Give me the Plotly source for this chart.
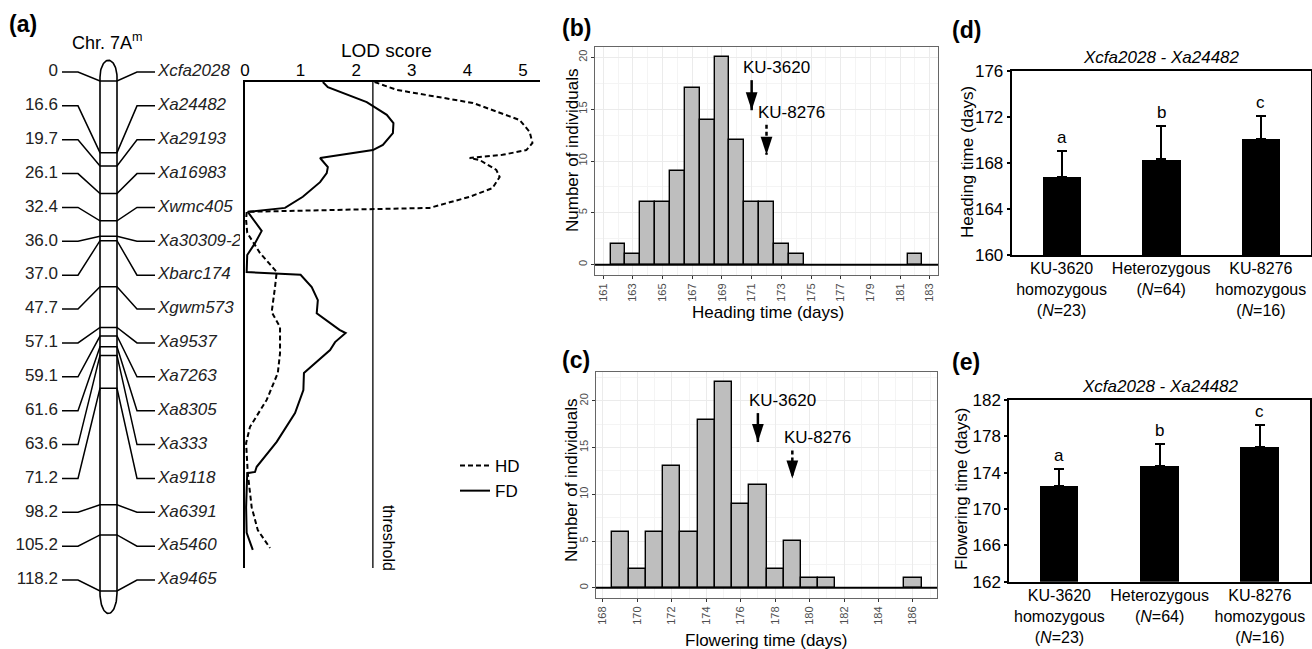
import numpy as np
import plotly.graph_objects as go

W, H = 1312, 649
FONT = "Liberation Sans, Arial, Helvetica, sans-serif"

# ---------------- data ----------------
# (a) linkage map of chromosome 7A^m
marker_names = ["Xcfa2028", "Xa24482", "Xa29193", "Xa16983", "Xwmc405", "Xa30309-2",
                "Xbarc174", "Xgwm573", "Xa9537", "Xa7263", "Xa8305", "Xa333", "Xa9118",
                "Xa6391", "Xa5460", "Xa9465"]
marker_cm = [0, 16.6, 19.7, 26.1, 32.4, 36.0, 37.0, 47.7, 57.1, 59.1, 61.6, 63.6, 71.2,
             98.2, 105.2, 118.2]
cm_labels = ["0", "16.6", "19.7", "26.1", "32.4", "36.0", "37.0", "47.7", "57.1", "59.1",
             "61.6", "63.6", "71.2", "98.2", "105.2", "118.2"]

# LOD profiles (position in cM, LOD)
fd_pos = [0, 1.3, 5.1, 8.3, 10.4, 12.9, 15.9, 17.2, 19.2, 21.5, 23.0, 25.3, 29.0, 31.8, 32.8,
          37.6, 40.7, 43.7, 48.0, 48.7, 51.8, 55.1, 58.4, 62.6, 63.4, 65.7, 67.7, 73.5, 77.8,
          83.6, 90.9, 97.2, 98.5, 98.8, 107.4, 113.9, 118.2]
fd_lod = [1.40, 1.49, 2.19, 2.55, 2.67, 2.66, 2.48, 2.30, 1.35, 1.49, 1.47, 1.35, 1.04, 0.72,
          0.05, 0.30, 0.18, 0.04, 0.03, 1.00, 1.20, 1.31, 1.29, 1.70, 1.81, 1.62, 1.53, 1.06,
          1.05, 0.90, 0.57, 0.21, 0.18, 0.04, 0.02, 0.03, 0.14]
hd_pos = [0, 2.0, 5.3, 9.6, 12.6, 15.4, 17.2, 18.4, 19.2, 19.7, 22.2, 24.0, 26.8, 29.0, 31.8,
          32.1, 32.8, 34.9, 38.1, 43.2, 48.0, 51.8, 58.1, 61.9, 68.5, 73.5, 80.3, 87.1, 91.2,
          98.8, 107.4, 113.2, 117.7]
hd_lod = [2.33, 2.73, 4.10, 4.94, 5.12, 5.17, 5.06, 4.63, 4.04, 4.22, 4.52, 4.58, 4.45, 4.04,
          3.32, 2.30, 0.03, 0.02, 0.04, 0.27, 0.57, 0.54, 0.48, 0.63, 0.63, 0.59, 0.39, 0.09,
          0.02, 0.05, 0.12, 0.23, 0.45]
lod_threshold = 2.3
lod_ticks = [0, 1, 2, 3, 4, 5]

# (b) heading time distribution
hd_days = [162, 163, 164, 165, 166, 167, 168, 169, 170, 171, 172, 173, 174, 182]
hd_counts = [2, 1, 6, 6, 9, 17, 14, 20, 12, 6, 6, 2, 1, 1]
# (c) flowering time distribution
fl_days = [169, 170, 171, 172, 173, 174, 175, 176, 177, 178, 179, 180, 181, 186]
fl_counts = [6, 2, 6, 13, 6, 18, 22, 9, 11, 2, 5, 1, 1, 1]
parent_names = ["KU-3620", "KU-8276"]
parent_hd = [171, 172]
parent_fl = [177, 179]

# (d), (e) genotype classes
genotype_labels = ["KU-3620<br>homozygous<br>(<i>N</i>=23)",
                   "Heterozygous<br>(<i>N</i>=64)",
                   "KU-8276<br>homozygous<br>(<i>N</i>=16)"]
hd_mean = [166.8, 168.3, 170.1]
hd_sd = [2.2, 2.9, 2.0]
fl_mean = [172.5, 174.7, 176.8]
fl_sd = [1.9, 2.5, 2.4]
sig_letters = ["a", "b", "c"]
interval_title = "Xcfa2028 - Xa24482"


# ---------------- helpers ----------------
def dx(p0, p1):
    return [p0 / W, p1 / W]


def dy(top, bottom):
    return [1 - bottom / H, 1 - top / H]


fig = go.Figure()

# ---------------- (a) chromosome map ----------------
CH_SCALE = 4.315      # px per cM on the drawn chromosome
CH_Y0 = 81            # px of 0 cM
SLOT0, SLOT_STEP = 72, 33.87
ch_yrange = [(H - CH_Y0) / CH_SCALE, -CH_Y0 / CH_SCALE]
slot_y = [(SLOT0 + SLOT_STEP * i - CH_Y0) / CH_SCALE for i in range(len(marker_cm))]

bx0, bx1 = 100, 117
bxc, bhw = (bx0 + bx1) / 2, (bx1 - bx0) / 2
conn_x, conn_y = [], []
for cm, sy in zip(marker_cm, slot_y):
    conn_x += [62, 78, bx0, bx1, 137, 155, None]
    conn_y += [sy, sy, cm, cm, sy, sy, None]
fig.add_trace(go.Scatter(x=conn_x, y=conn_y, mode="lines", line=dict(color="black", width=1.5),
                         xaxis="x", yaxis="y", showlegend=False, hoverinfo="skip"))

top_side = min(marker_cm) - 0.9
bot_side = max(marker_cm) + 0.5
t = np.linspace(0, np.pi, 40)
ox = list(bxc - bhw * np.cos(t)) + list(bxc + bhw * np.cos(t)) + [bx0]
oy = list(top_side - 3.9 * np.sin(t)) + list(bot_side + 4.7 * np.sin(t)) + [top_side]
fig.add_trace(go.Scatter(x=ox, y=oy, mode="lines", line=dict(color="black", width=1.6),
                         xaxis="x", yaxis="y", showlegend=False, hoverinfo="skip"))

fig.add_trace(go.Scatter(x=[58] * len(cm_labels), y=slot_y, text=cm_labels, mode="text",
                         textposition="middle left", textfont=dict(size=17, color="#222"),
                         xaxis="x", yaxis="y", showlegend=False, hoverinfo="skip"))
fig.add_trace(go.Scatter(x=[158] * len(marker_names), y=slot_y,
                         text=["<i>%s</i>" % m for m in marker_names], mode="text",
                         textposition="middle right", textfont=dict(size=17, color="#222"),
                         xaxis="x", yaxis="y", showlegend=False, hoverinfo="skip"))

# ---------------- (a) LOD profile ----------------
LOD_PX = 55.6
POS_PX = 3.959
lod_xmax = (540 - 245) / LOD_PX
lod_ymax = (568 - 82) / POS_PX
fig.add_trace(go.Scatter(x=hd_lod, y=hd_pos, mode="lines", name="HD",
                         line=dict(color="black", width=2, dash="5px,3px"),
                         xaxis="x2", yaxis="y2", legendgroup="hd"))
fig.add_trace(go.Scatter(x=fd_lod, y=fd_pos, mode="lines", name="FD",
                         line=dict(color="black", width=2),
                         xaxis="x2", yaxis="y2", legendgroup="fd"))
fig.add_trace(go.Scatter(x=[lod_threshold, lod_threshold], y=[0, lod_ymax], mode="lines",
                         line=dict(color="black", width=1.3), xaxis="x2", yaxis="y2",
                         showlegend=False, hoverinfo="skip"))

# ---------------- (b), (c) histograms ----------------
def add_hist(days, counts, parents, xa, ya, tips, tails):
    fig.add_trace(go.Bar(x=days, y=counts, width=1, marker=dict(color="#BEBEBE",
                         line=dict(color="black", width=1.4)), xaxis=xa, yaxis=ya,
                         showlegend=False, hoverinfo="skip"))
    for k, (name, p) in enumerate(zip(parent_names, parents)):
        fig.add_trace(go.Scatter(x=[p, p], y=[tails[k], tips[k]], mode="lines",
                                 line=dict(color="black", width=2.5,
                                           dash="solid" if k == 0 else "4px,3px"),
                                 xaxis=xa, yaxis=ya, showlegend=False, hoverinfo="skip"))
        fig.add_trace(go.Scatter(x=[p], y=[tips[k]], mode="markers",
                                 marker=dict(symbol="arrow", angle=180, size=19, color="black",
                                             line=dict(width=0)),
                                 xaxis=xa, yaxis=ya, showlegend=False, hoverinfo="skip"))
        fig.add_annotation(x=p, y=tails[k], xref=xa, yref=ya, text=name, showarrow=False,
                           xshift=25, yanchor="bottom", yshift=1,
                           font=dict(size=17, color="black"))


add_hist(hd_days, hd_counts, parent_hd, "x3", "y3", tips=[14.9, 10.6], tails=[17.8, 13.5])
add_hist(fl_days, fl_counts, parent_fl, "x4", "y4", tips=[15.6, 11.7], tails=[18.7, 14.7])

# ---------------- (d), (e) bar charts ----------------
for means, sds, xa, ya in [(hd_mean, hd_sd, "x5", "y5"), (fl_mean, fl_sd, "x6", "y6")]:
    xs = list(range(len(means)))
    fig.add_trace(go.Bar(x=xs, y=means, width=0.385, marker=dict(color="black", line=dict(width=0)),
                         error_y=dict(type="data", array=sds, arrayminus=[0] * len(sds),
                                      symmetric=False, color="black", thickness=2, width=5),
                         xaxis=xa, yaxis=ya, showlegend=False, hoverinfo="skip"))
    for i, (m, s, l) in enumerate(zip(means, sds, sig_letters)):
        fig.add_annotation(x=i, y=m + s, xref=xa, yref=ya, text=l, showarrow=False,
                           yanchor="bottom", yshift=2, font=dict(size=17, color="black"))

# ---------------- layout ----------------
hidden = dict(visible=False, showgrid=False, zeroline=False, automargin=False)


def hist_x(dom, rng, t0, anchor):
    return dict(domain=dom, range=rng, anchor=anchor, tickmode="linear", tick0=t0, dtick=2,
                tickangle=-90, ticks="outside", ticklen=3, tickcolor="#333",
                tickfont=dict(size=11, color="#4D4D4D"), showgrid=True, gridcolor="#EBEBEB",
                gridwidth=1, minor=dict(tick0=t0, dtick=1, showgrid=True, gridcolor="#F4F4F4",
                                        gridwidth=0.6),
                showline=True, mirror=True, linecolor="#666", linewidth=1, zeroline=False,
                automargin=False)


def hist_y(dom, rng, anchor):
    return dict(domain=dom, range=rng, anchor=anchor, tickmode="linear", tick0=0, dtick=5,
                tickangle=-90, ticks="outside", ticklen=3, tickcolor="#333",
                tickfont=dict(size=11, color="#4D4D4D"), showgrid=True, gridcolor="#EBEBEB",
                gridwidth=1, minor=dict(tick0=0, dtick=2.5, showgrid=True, gridcolor="#F4F4F4",
                                        gridwidth=0.6),
                showline=True, mirror=True, linecolor="#666", linewidth=1, zeroline=False,
                automargin=False)


def bar_x(dom, anchor):
    return dict(domain=dom, range=[-0.5, 2.5], anchor=anchor, tickmode="array",
                tickvals=[0, 1, 2], ticktext=genotype_labels, ticks="", tickangle=0,
                ticklabelstandoff=-2,
                tickfont=dict(size=16, color="black"), showgrid=False, zeroline=False,
                showline=True, mirror=True, linecolor="black", linewidth=2, automargin=False)


def bar_y(dom, rng, anchor):
    return dict(domain=dom, range=rng, anchor=anchor, tickmode="linear", tick0=rng[0], dtick=4,
                ticks="outside", ticklen=3, tickcolor="black", tickwidth=1.5,
                tickfont=dict(size=17, color="black"), showgrid=False, zeroline=False,
                showline=True, mirror=True, linecolor="black", linewidth=2, automargin=False)


fig.update_layout(
    template="none",
    width=W, height=H, margin=dict(l=0, r=0, t=0, b=0, pad=0),
    paper_bgcolor="white", plot_bgcolor="rgba(0,0,0,0)",
    font=dict(family=FONT, color="black"),
    bargap=0,
    xaxis=dict(domain=dx(0, 240), range=[0, 240], anchor="y", **hidden),
    yaxis=dict(domain=[0, 1], range=ch_yrange, anchor="x", **hidden),
    xaxis2=dict(domain=dx(245, 540), range=[0, lod_xmax], anchor="y2", side="top",
                tickmode="array", tickvals=lod_ticks, ticks="", showgrid=False, zeroline=False,
                showline=True, linecolor="black", linewidth=2, automargin=False,
                ticklabelstandoff=-3, tickfont=dict(size=17, color="black")),
    yaxis2=dict(domain=dy(82, 568), range=[lod_ymax, 0], anchor="x2", showticklabels=False,
                ticks="", showgrid=False, zeroline=False, showline=True, linecolor="black",
                linewidth=2, automargin=False),
    xaxis3=hist_x(dx(595, 938), [160.45, 183.55], 161, "y3"),
    yaxis3=hist_y(dy(47, 275), [-1, 21], "x3"),
    xaxis4=hist_x(dx(596, 937), [167.6, 187.4], 168, "y4"),
    yaxis4=hist_y(dy(372, 598), [-1.1, 23.1], "x4"),
    xaxis5=bar_x(dx(1011.7, 1310.7), "y5"),
    yaxis5=bar_y(dy(70.7, 255), [160, 176], "x5"),
    xaxis6=bar_x(dx(1009.3, 1310), "y6"),
    yaxis6=bar_y(dy(400, 581.7), [162, 182], "x6"),
    legend=dict(x=(428 + 27) / W, y=1 - 448 / H, xanchor="left", yanchor="top",
                font=dict(size=17, color="black"), bgcolor="rgba(0,0,0,0)",
                tracegroupgap=20, traceorder="normal", borderwidth=0),
)

# zero lines of histograms
for xa, ya in [("x3", "y3"), ("x4", "y4")]:
    fig.add_shape(type="line", xref=xa + " domain", yref=ya, x0=0, x1=1, y0=0, y1=0,
                  line=dict(color="black", width=2), layer="above")


def ptext(text, px, py, size=17, angle=0, bold=False, xanchor="center", yanchor="middle"):
    fig.add_annotation(x=px / W, y=1 - py / H, xref="paper", yref="paper",
                       text=("<b>%s</b>" % text) if bold else text, showarrow=False,
                       textangle=angle, xanchor=xanchor, yanchor=yanchor,
                       font=dict(size=size, color="black", family=FONT))


# panel letters
ptext("(a)", 7, 24, size=23, bold=True, xanchor="left")
ptext("(b)", 560, 28, size=23, bold=True, xanchor="left")
ptext("(c)", 560, 360, size=23, bold=True, xanchor="left")
ptext("(d)", 950, 30, size=23, bold=True, xanchor="left")
ptext("(e)", 950, 362, size=23, bold=True, xanchor="left")

# panel (a) headings
ptext("Chr. 7A<sup>m</sup>", 107, 42, size=18)
ptext("LOD score", 386, 50, size=19)
fig.add_annotation(x=lod_threshold, y=(538 - 82) / POS_PX, xref="x2", yref="y2",
                   text="threshold", textangle=90, showarrow=False, xshift=16,
                   font=dict(size=16, color="black"))

# axis titles of histograms
ptext("Number of individuals", 572, 151, angle=-90)
ptext("Heading time (days)", 768, 312)
ptext("Number of individuals", 571, 481, angle=-90)
ptext("Flowering time (days)", 766, 640)

# axis titles / headings of bar charts
ptext("Heading time (days)", 967, 162, angle=-90)
ptext("Flowering time (days)", 961, 489, angle=-90)
ptext("<i>%s</i>" % interval_title, 1161, 58)
ptext("<i>%s</i>" % interval_title, 1160, 386)

fig.write_html("out.html",
               config={"displayModeBar": False},
               post_script="document.body.style.margin='0px';"
                           "document.body.style.overflow='hidden';")
